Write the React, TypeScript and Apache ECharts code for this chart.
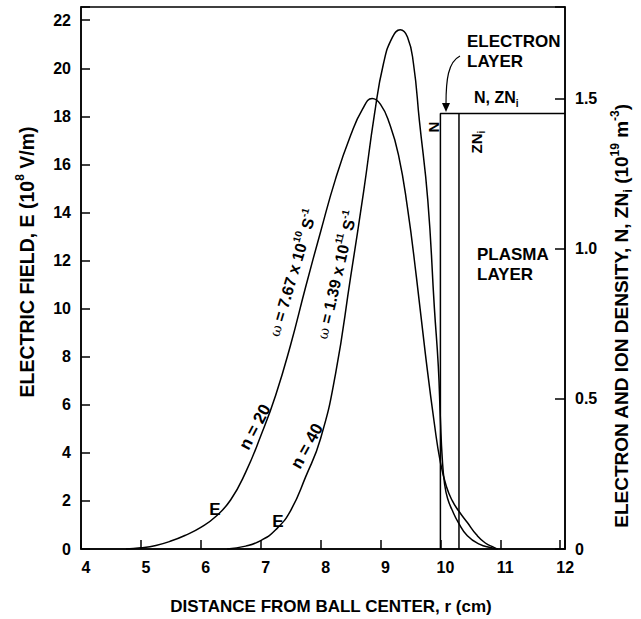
import React, { useEffect, useRef } from 'react';
import * as echarts from 'echarts';

// Electric field, n = 20 (omega = 7.67e10 s^-1)
const r20 = [4.75, 5.0, 5.25, 5.5, 5.75, 6.0, 6.25, 6.5, 6.75, 7.0, 7.25, 7.5, 7.75, 8.0, 8.25, 8.5, 8.7, 8.86, 9.0, 9.15, 9.3, 9.45, 9.6, 9.75, 9.9, 10.0, 10.1, 10.2, 10.3, 10.45, 10.6, 10.75, 10.9, 10.95];
const e20 = [0, 0.05, 0.15, 0.33, 0.58, 0.9, 1.35, 2.05, 3.2, 4.7, 6.4, 8.5, 10.9, 13.2, 15.4, 17.2, 18.3, 18.74, 18.5, 17.7, 16.4, 14.2, 11.3, 8.1, 5.2, 3.6, 2.6, 2.0, 1.6, 1.1, 0.6, 0.25, 0.06, 0];
// Electric field, n = 40 (omega = 1.39e11 s^-1)
const r40 = [6.44, 6.75, 7.0, 7.25, 7.5, 7.75, 8.0, 8.25, 8.5, 8.72, 8.9, 9.05, 9.2, 9.33, 9.45, 9.55, 9.65, 9.79, 9.9, 9.965, 10.0, 10.03, 10.07, 10.12, 10.2, 10.3, 10.45, 10.65, 10.85, 10.96];
const e40 = [0, 0.12, 0.35, 0.8, 1.6, 3.0, 4.6, 7.3, 11.3, 14.9, 18.1, 20.2, 21.3, 21.6, 21.3, 20.2, 17.8, 14.5, 10.0, 7.6, 5.4, 3.8, 2.7, 2.1, 1.6, 1.1, 0.55, 0.2, 0.05, 0];
// Electron density N and ion density ZNi (1e19 m^-3)
const rN = [10.0, 10.0, 12.08];
const dN = [0, 1.45, 1.45];
const rZ = [10.31, 10.31];
const dZ = [0, 1.45];

const F = '"Liberation Sans", Arial, Helvetica, sans-serif';

function pairs(xs: number[], ys: number[]) {
  return xs.map((x, i) => [x, ys[i]]);
}

function rs(size: number, extra: any = {}) {
  return { fontSize: size, fontWeight: 'bold', fontFamily: F, fill: '#000', ...extra };
}

function txt(x: number, y: number, text: string, rich: any, opts: any = {}) {
  return {
    type: 'text',
    x,
    y,
    rotation: opts.rot || 0,
    z: 100,
    style: {
      text,
      rich,
      fill: '#000',
      font: `bold 16px ${F}`,
      textAlign: opts.align || 'center',
      textVerticalAlign: 'middle',
    },
  };
}

export default function App() {
  const ref = useRef<HTMLDivElement>(null);
  useEffect(() => {
    const chart = echarts.init(ref.current!, null, { renderer: 'svg' });
    const deg = Math.PI / 180;
    const line = { color: '#000', width: 1.5 };
    const supRich = (size: number, sup: number) => ({
      a: rs(size, { lineHeight: size + 6 }),
      s: rs(sup, { verticalAlign: 'top' }),
      b: rs(sup, { verticalAlign: 'bottom' }),
      w: { fontSize: size - 2, fontWeight: 'normal', fontFamily: '"DejaVu Serif", serif', fill: '#000' },
    });
    const curve = { type: 'line', smooth: 0.5, showSymbol: false, symbol: 'none', lineStyle: line };
    chart.setOption({
      animation: false,
      backgroundColor: '#fff',
      grid: { left: 81, top: 7, width: 484, height: 542, show: true, borderColor: '#000', borderWidth: 1.5, backgroundColor: 'transparent' },
      xAxis: {
        type: 'value', min: 4, max: 12.08, interval: 1,
        axisLine: { lineStyle: line },
        axisTick: { inside: true, length: 9, lineStyle: line },
        axisLabel: {
          color: '#000', fontSize: 16, fontWeight: 'bold', fontFamily: F, margin: 10, padding: [0, 0, 0, 10],
          formatter: (v: number) => (Math.abs(v - Math.round(v)) < 1e-6 ? String(Math.round(v)) : ''),
        },
        splitLine: { show: false },
      },
      yAxis: [
        {
          type: 'value', min: 0, max: 22.55, interval: 2,
          axisLine: { show: true, lineStyle: line },
          axisTick: { inside: true, length: 9, lineStyle: line },
          axisLabel: {
            color: '#000', fontSize: 16, fontWeight: 'bold', fontFamily: F, margin: 10,
            formatter: (v: number) => (Math.abs(v % 2) < 1e-6 ? String(v) : ''),
          },
          splitLine: { show: false },
        },
        {
          type: 'value', min: 0, max: 1.805, interval: 0.5, position: 'right',
          axisLine: { show: true, lineStyle: line },
          axisTick: { inside: true, length: 10, lineStyle: line },
          axisLabel: {
            color: '#000', fontSize: 16, fontWeight: 'bold', fontFamily: F, margin: 10,
            formatter: (v: number) => (v === 0 ? '0' : Math.abs((v * 2) % 1) < 1e-6 ? v.toFixed(1) : ''),
          },
          splitLine: { show: false },
        },
      ],
      series: [
        { ...curve, data: pairs(r20, e20) },
        { ...curve, data: pairs(r40, e40) },
        { type: 'line', yAxisIndex: 1, data: pairs(rN, dN), showSymbol: false, symbol: 'none', lineStyle: line },
        { type: 'line', yAxisIndex: 1, data: pairs(rZ, dZ), showSymbol: false, symbol: 'none', lineStyle: line },
      ],
      graphic: [
        txt(331, 606, '{a|DISTANCE FROM BALL CENTER, r (cm)}', { a: rs(17) }),
        txt(27, 262, '{a|ELECTRIC FIELD, E (10}{s|8}{a| V/m)}', supRich(19.5, 12), { rot: 90 * deg }),
        txt(621, 316, '{a|ELECTRON AND ION DENSITY, N, ZN}{b|i}{a| (10}{s|19}{a| m}{s|-3}{a|)}', supRich(19, 12), { rot: 90 * deg }),
        txt(467, 41, '{a|ELECTRON}', { a: rs(17) }, { align: 'left' }),
        txt(467, 61, '{a|LAYER}', { a: rs(17) }, { align: 'left' }),
        txt(474, 97, '{a|N, ZN}{b|i}', supRich(16, 10), { align: 'left' }),
        txt(433, 127, '{a|N}', { a: rs(15) }, { rot: 90 * deg }),
        txt(476, 142, '{a|ZN}{b|i}', supRich(15, 10), { rot: 90 * deg }),
        txt(477, 254, '{a|PLASMA}', { a: rs(17) }, { align: 'left' }),
        txt(477, 274, '{a|LAYER}', { a: rs(17) }, { align: 'left' }),
        txt(293, 273, '{w|ω}{a| = 7.67 x 10}{s|10}{a| S}{s|-1}', supRich(16, 10), { rot: 73.5 * deg }),
        txt(337, 275, '{w|ω}{a| = 1.39 x 10}{s|11}{a| S}{s|-1}', supRich(16, 10), { rot: 76.8 * deg }),
        txt(255, 427, '{a|n = 20}', { a: rs(17) }, { rot: 62 * deg }),
        txt(307, 446, '{a|n = 40}', { a: rs(17) }, { rot: 61 * deg }),
        txt(215, 509, '{a|E}', { a: rs(17) }),
        txt(278, 521, '{a|E}', { a: rs(17) }),
        {
          type: 'bezierCurve', z: 100,
          shape: { x1: 460, y1: 56, cpx1: 448, cpy1: 62, cpx2: 446, cpy2: 80, x2: 446, y2: 104 },
          style: { stroke: '#000', lineWidth: 1.2, fill: 'none' },
        },
        {
          type: 'polygon', z: 100,
          shape: { points: [[442, 103], [450, 103], [446, 112]] },
          style: { fill: '#000' },
        },
      ],
    });
    return () => chart.dispose();
  }, []);
  return <div ref={ref} style={{ position: 'fixed', left: 0, top: 0, width: 641, height: 619, background: '#fff' }} />;
}
